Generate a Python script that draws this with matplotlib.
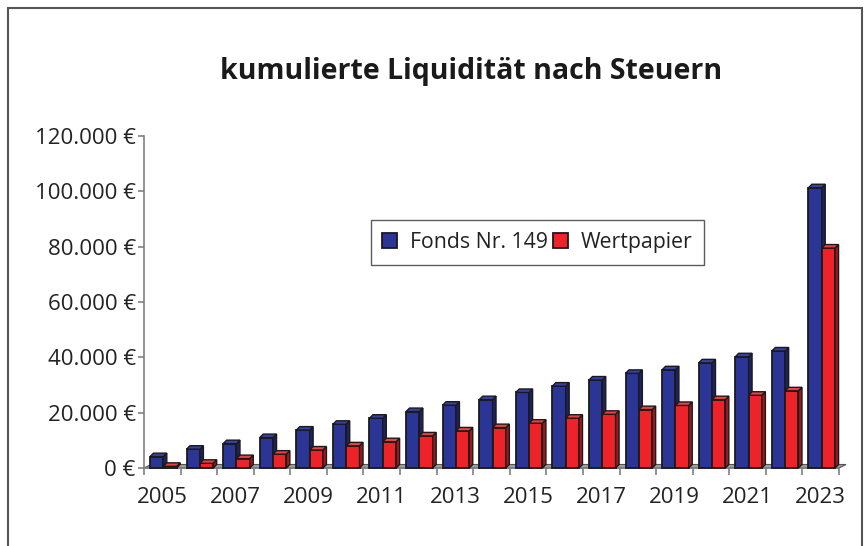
import matplotlib.pyplot as plt
from matplotlib.patches import Polygon, Rectangle
from matplotlib.ticker import FuncFormatter, FixedLocator
import numpy as np

# ────────────────────────────────────────────────
# Data
# ────────────────────────────────────────────────
years = list(range(2005, 2024))
fonds = [4100, 6800, 8800, 11000, 13700, 15800, 18000, 20400, 22700, 24700,
         27300, 29600, 31800, 34200, 35500, 38000, 40200, 42300, 101300]
wertpapier = [600, 1700, 3400, 5000, 6500, 8000, 9500, 11600, 13400, 14600,
              16200, 18000, 19400, 21100, 22600, 24700, 26300, 27900, 79500]

series_names = ["Fonds Nr. 149", "Wertpapier"]
front_colors = ["#2B3595", "#EE2229"]
side_colors = ["#1C2266", "#A5161C"]
top_colors = ["#3540A8", "#F03C42"]

plt.rcParams['font.family'] = ['Open Sans', 'DejaVu Sans']

fig = plt.figure(figsize=(8.68, 5.46), dpi=100)
W, H = 868, 546
ax = fig.add_axes([144 / W, 1 - 468 / H, 695 / W, 332 / H])

n = len(years)
ax.set_xlim(-0.5, n - 0.5)
ax.set_ylim(0, 120000)

# pixel depth of the pseudo-3D effect, converted to data units
depth_px = 3.5
dx = depth_px * n / 695
dy = depth_px * 120000 / 332

# floor
ax.add_patch(Polygon([(-0.5, 0), (n - 0.5, 0), (n - 0.5 + dx * 2, dy * 1.0),
                      (-0.5 + dx * 2, dy * 1.0)], closed=True,
                     facecolor="#A0A0A0", edgecolor="#555555", lw=0.8,
                     clip_on=False, zorder=1))

bw = 0.364
x = np.arange(n)
offsets = [-0.336, 0.028]
for i in range(n):
    for s, vals in enumerate([fonds, wertpapier]):
        left = x[i] + offsets[s]
        v = vals[i]
        z = 3 + i * 2 + s
        ax.bar(left, v, width=bw, align='edge', color=front_colors[s],
               edgecolor="#1A1A1A", lw=1.3, zorder=z, clip_on=False)
        side = [(left + bw, 0), (left + bw + dx, dy), (left + bw + dx, v + dy), (left + bw, v)]
        top = [(left, v), (left + bw, v), (left + bw + dx, v + dy), (left + dx, v + dy)]
        ax.add_patch(Polygon(side, closed=True, facecolor=side_colors[s],
                             edgecolor="#1A1A1A", lw=1.0, zorder=z, clip_on=False))
        ax.add_patch(Polygon(top, closed=True, facecolor=top_colors[s],
                             edgecolor="#1A1A1A", lw=1.0, zorder=z, clip_on=False))

# axes styling
for sp in ['top', 'right']:
    ax.spines[sp].set_visible(False)
ax.spines['left'].set_color("#808080")
ax.spines['bottom'].set_color("#808080")
ax.spines['left'].set_linewidth(1.2)
ax.spines['bottom'].set_linewidth(1.2)

ax.set_yticks(np.arange(0, 120001, 20000))
ax.yaxis.set_major_formatter(FuncFormatter(lambda v, p: f"{int(v):,} €".replace(",", ".")))
ax.tick_params(axis='y', direction='out', length=4, color="#808080", width=1.2,
               labelsize=16, labelcolor="#222222", pad=2)

ax.xaxis.set_major_locator(FixedLocator(list(x[::2])))
ax.set_xticklabels([str(y) for y in years[::2]])
ax.xaxis.set_minor_locator(FixedLocator(list(np.arange(-0.5, n, 1.0))))
ax.tick_params(axis='x', which='major', length=0, labelsize=16,
               labelcolor="#222222", pad=14)
ax.tick_params(axis='x', which='minor', direction='out', length=5,
               color="#808080", width=1.2)

# legend
handles = [Rectangle((0, 0), 1, 1, facecolor=c, edgecolor="#1A1A1A", lw=1.3)
           for c in front_colors]
leg = ax.legend(handles, series_names, loc='center', bbox_to_anchor=(0.566, 0.679),
                fontsize=15.3, frameon=True, fancybox=False, ncol=2,
                handlelength=0.7, handleheight=0.7, handletextpad=0.6,
                columnspacing=0.25, borderpad=0.55)
leg.get_frame().set_edgecolor("#333333")
leg.get_frame().set_linewidth(1.0)
for t in leg.get_texts():
    t.set_color("#222222")

fig.text(471 / W, 1 - 72 / H, "kumulierte Liquidität nach Steuern",
         ha='center', va='center', fontsize=20.5, fontweight='bold', color="#1A1A1A")

# outer frame of the chart area
fig.add_artist(Rectangle((8 / W, -0.05), (862 - 8) / W, 1.05 - 8 / H,
                         transform=fig.transFigure, fill=False,
                         edgecolor="#555555", lw=1.5))

fig.savefig("out.png", dpi=100)
